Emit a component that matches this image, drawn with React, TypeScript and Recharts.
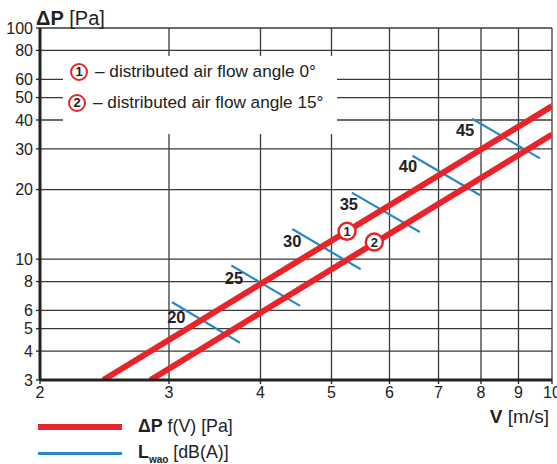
import { ComposedChart, Line, Scatter, XAxis, YAxis, CartesianGrid } from "recharts";

// log-log chart: pressure drop vs velocity, with Lwao iso-lines
const xTicks = [2, 3, 4, 5, 6, 7, 8, 9, 10];
const yTicks = [3, 4, 5, 6, 8, 10, 20, 30, 40, 50, 60, 80, 100];

const dpAngle0 = [
  { v: 2.44, p: 3 },
  { v: 10, p: 45.9 },
];
const dpAngle15 = [
  { v: 2.83, p: 3 },
  { v: 10, p: 34.6 },
];

const lwaoLevels = [20, 25, 30, 35, 40, 45];
const lwaoStart = [
  [3.03, 6.51],
  [3.65, 9.38],
  [4.42, 13.5],
  [5.33, 19.4],
  [6.45, 28.0],
  [7.78, 40.5],
];
const lwaoEnd = [
  [3.75, 4.35],
  [4.53, 6.28],
  [5.48, 9.04],
  [6.6, 13.1],
  [7.98, 18.9],
  [9.63, 27.3],
];
const lwaoLabelAt = [
  [3.07, 5.64],
  [3.68, 8.27],
  [4.42, 12.0],
  [5.28, 17.4],
  [6.36, 25.4],
  [7.61, 36.3],
];

const curveMarkers = [
  { v: 5.25, p: 13.2, n: "1" },
  { v: 5.72, p: 11.85, n: "2" },
];

const RED = "#e8242a";
const BLUE = "#2a88c9";
const INK = "#222";
const FONT = "'Liberation Sans', Arial, sans-serif";

const lwaoSegments = lwaoLevels.map((lvl, i) => ({
  lvl,
  pts: [
    { v: lwaoStart[i][0], p: lwaoStart[i][1] },
    { v: lwaoEnd[i][0], p: lwaoEnd[i][1] },
  ],
}));
const lwaoLabels = lwaoLevels.map((lvl, i) => ({ v: lwaoLabelAt[i][0], p: lwaoLabelAt[i][1], lvl }));

const LevelText = (props: any) => (
  <text
    x={props.cx}
    y={props.cy}
    textAnchor="middle"
    dominantBaseline="central"
    fontFamily={FONT}
    fontWeight="bold"
    fontSize={16.5}
    fill={INK}
  >
    {props.payload.lvl}
  </text>
);

const CircleNum = (props: any) => (
  <g>
    <circle cx={props.cx} cy={props.cy} r={8.5} fill="#fff" stroke={RED} strokeWidth={2.5} />
    <text
      x={props.cx}
      y={props.cy + 0.5}
      textAnchor="middle"
      dominantBaseline="central"
      fontFamily={FONT}
      fontWeight="bold"
      fontSize={13}
      fill={INK}
    >
      {props.payload.n}
    </text>
  </g>
);

const badge = (n: string) => (
  <span
    style={{
      display: "inline-block",
      width: 14,
      height: 14,
      lineHeight: "14px",
      borderRadius: "50%",
      border: `2.5px solid ${RED}`,
      textAlign: "center",
      fontWeight: "bold",
      fontSize: 13,
      color: INK,
      marginRight: 7,
      verticalAlign: "middle",
    }}
  >
    {n}
  </span>
);

export default function App() {
  const tick = { fontSize: 16, fill: INK, fontFamily: FONT };
  return (
    <div style={{ position: "absolute", left: 0, top: 0, width: 557, height: 464, background: "#fff", fontFamily: FONT, color: INK }}>
      <ComposedChart width={557} height={464} margin={{ top: 28, right: 5, left: 0, bottom: 0 }}>
        <CartesianGrid stroke="#3a3a3a" strokeWidth={1.3} />
        <XAxis
          type="number"
          dataKey="v"
          scale="log"
          domain={[2, 10]}
          ticks={xTicks}
          allowDataOverflow
          height={84}
          tick={tick}
          tickSize={4}
          tickMargin={3}
          tickLine={{ stroke: INK, strokeWidth: 1.3 }}
          axisLine={{ stroke: INK, strokeWidth: 3 }}
          interval={0}
        />
        <YAxis
          type="number"
          dataKey="p"
          scale="log"
          domain={[3, 100]}
          ticks={yTicks}
          allowDataOverflow
          width={40}
          tick={tick}
          tickSize={4}
          tickMargin={3}
          tickLine={{ stroke: INK, strokeWidth: 1.3 }}
          axisLine={{ stroke: INK, strokeWidth: 3 }}
          interval={0}
        />
        {lwaoSegments.map((s) => (
          <Line
            key={s.lvl}
            data={s.pts}
            dataKey="p"
            stroke={BLUE}
            strokeWidth={2.2}
            dot={false}
            activeDot={false}
            isAnimationActive={false}
          />
        ))}
        <Line data={dpAngle0} dataKey="p" stroke={RED} strokeWidth={6} dot={false} activeDot={false} isAnimationActive={false} />
        <Line data={dpAngle15} dataKey="p" stroke={RED} strokeWidth={6} dot={false} activeDot={false} isAnimationActive={false} />
        <Scatter data={lwaoLabels} shape={LevelText} isAnimationActive={false} />
        <Scatter data={curveMarkers} shape={CircleNum} isAnimationActive={false} />
      </ComposedChart>

      {/* y axis title */}
      <div style={{ position: "absolute", left: 36, top: 6, fontSize: 20, lineHeight: "24px", whiteSpace: "nowrap" }}>
        <b>ΔP</b> [Pa]
      </div>

      {/* curve key box */}
      <div
        style={{
          position: "absolute",
          left: 63,
          top: 56,
          width: 274,
          height: 78,
          background: "#fff",
          fontSize: 17.2,
          whiteSpace: "nowrap",
        }}
      >
        <div style={{ position: "absolute", left: 7, top: 5, lineHeight: "20px" }}>
          {badge("1")}– distributed air flow angle 0°
        </div>
        <div style={{ position: "absolute", left: 5, top: 36, lineHeight: "20px" }}>
          {badge("2")}– distributed air flow angle 15°
        </div>
      </div>

      {/* x axis title */}
      <div style={{ position: "absolute", right: 8, top: 404, fontSize: 19, lineHeight: "26px", whiteSpace: "nowrap" }}>
        <b>V</b> [m/s]
      </div>

      {/* series key */}
      <div style={{ position: "absolute", left: 38, top: 424, width: 84, height: 5.5, background: RED }} />
      <div style={{ position: "absolute", left: 138, top: 414, fontSize: 17.8, lineHeight: "24px", whiteSpace: "nowrap" }}>
        <b>ΔP</b> f(V) [Pa]
      </div>
      <div style={{ position: "absolute", left: 38, top: 452, width: 84, height: 2.5, background: BLUE }} />
      <div style={{ position: "absolute", left: 138, top: 440, fontSize: 17.8, lineHeight: "24px", whiteSpace: "nowrap" }}>
        <b>L</b>
        <b style={{ fontSize: 10, position: "relative", top: 5 }}>wao</b> [dB(A)]
      </div>
    </div>
  );
}
